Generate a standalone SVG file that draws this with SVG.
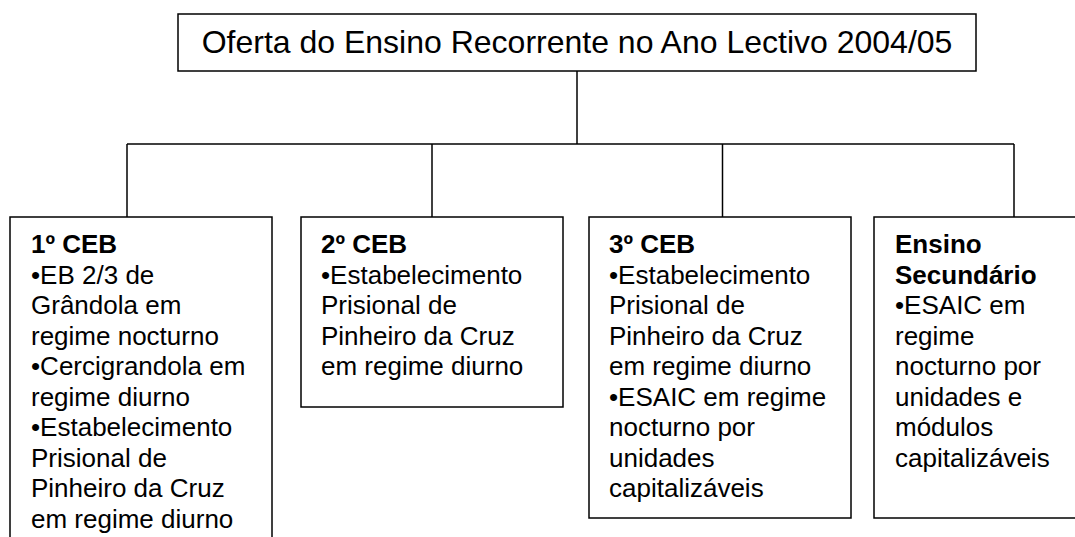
<svg xmlns="http://www.w3.org/2000/svg" width="1075" height="537" viewBox="0 0 1075 537">
<style>
.box{fill:#fff;stroke:#000;stroke-width:1.5}
.conn{fill:none;stroke:#000;stroke-width:1.5}
.t{font-family:"Liberation Sans",Arial,sans-serif;font-size:26px;fill:#000}
.b{font-weight:bold}
.title{font-family:"Liberation Sans",Arial,sans-serif;font-size:32px;fill:#000}
</style>
<rect width="1075" height="537" fill="#fff"/>
<g id="connectors">
<line class="conn" x1="577" y1="71" x2="577" y2="144"/>
<line class="conn" x1="127" y1="144" x2="1014" y2="144"/>
<line class="conn" x1="127" y1="144" x2="127" y2="217"/>
<line class="conn" x1="432" y1="144" x2="432" y2="217"/>
<line class="conn" x1="722.5" y1="144" x2="722.5" y2="217"/>
<line class="conn" x1="1014" y1="144" x2="1014" y2="217"/>
</g>
<g id="root">
<rect class="box" x="178" y="14" width="798" height="57"/>
<text class="title" x="577" y="53" text-anchor="middle">Oferta do Ensino Recorrente no Ano Lectivo 2004/05</text>
</g>
<g id="ceb1">
<rect class="box" x="10" y="217" width="262" height="340"/>
<text class="t" x="31" y="253"><tspan class="b">1º CEB</tspan><tspan x="31" dy="30.5">•EB 2/3 de</tspan><tspan x="31" dy="30.5">Grândola em</tspan><tspan x="31" dy="30.5">regime nocturno</tspan><tspan x="31" dy="30.5">•Cercigrandola em</tspan><tspan x="31" dy="30.5">regime diurno</tspan><tspan x="31" dy="30.5">•Estabelecimento</tspan><tspan x="31" dy="30.5">Prisional de</tspan><tspan x="31" dy="30.5">Pinheiro da Cruz</tspan><tspan x="31" dy="30.5">em regime diurno</tspan></text>
</g>
<g id="ceb2">
<rect class="box" x="301" y="217" width="262" height="190"/>
<text class="t" x="321" y="253"><tspan class="b">2º CEB</tspan><tspan x="321" dy="30.5">•Estabelecimento</tspan><tspan x="321" dy="30.5">Prisional de</tspan><tspan x="321" dy="30.5">Pinheiro da Cruz</tspan><tspan x="321" dy="30.5">em regime diurno</tspan></text>
</g>
<g id="ceb3">
<rect class="box" x="589" y="217" width="262" height="301"/>
<text class="t" x="609" y="253"><tspan class="b">3º CEB</tspan><tspan x="609" dy="30.5">•Estabelecimento</tspan><tspan x="609" dy="30.5">Prisional de</tspan><tspan x="609" dy="30.5">Pinheiro da Cruz</tspan><tspan x="609" dy="30.5">em regime diurno</tspan><tspan x="609" dy="30.5">•ESAIC em regime</tspan><tspan x="609" dy="30.5">nocturno por</tspan><tspan x="609" dy="30.5">unidades</tspan><tspan x="609" dy="30.5">capitalizáveis</tspan></text>
</g>
<g id="secundario">
<rect class="box" x="874" y="217" width="262" height="301"/>
<text class="t" x="895" y="253"><tspan class="b">Ensino</tspan><tspan class="b" x="895" dy="30.5">Secundário</tspan><tspan x="895" dy="30.5">•ESAIC em</tspan><tspan x="895" dy="30.5">regime</tspan><tspan x="895" dy="30.5">nocturno por</tspan><tspan x="895" dy="30.5">unidades e</tspan><tspan x="895" dy="30.5">módulos</tspan><tspan x="895" dy="30.5">capitalizáveis</tspan></text>
</g>
</svg>
